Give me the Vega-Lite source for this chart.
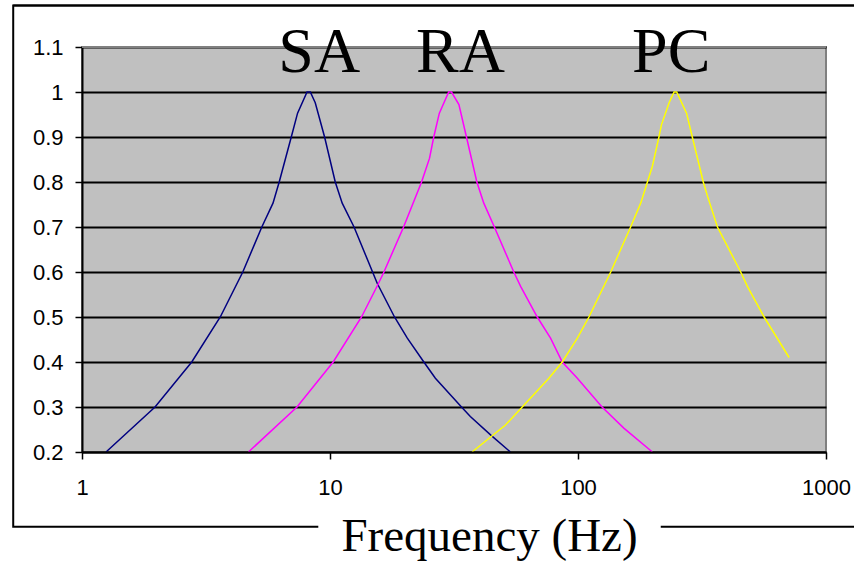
{
  "$schema": "https://vega.github.io/schema/vega-lite/v6.json",
  "width": 744,
  "height": 405,
  "autosize": {"type": "none"},
  "padding": {"left": 82, "top": 47, "right": 28, "bottom": 109},
  "background": "white",
  "config": {
    "view": {"fill": "#C0C0C0", "stroke": "#808080", "strokeWidth": 2}
  },
  "datasets": {
    "curves": [
      {"series": "SA", "f": 1.25, "v": 0.2},
      {"series": "SA", "f": 1.97, "v": 0.3},
      {"series": "SA", "f": 2.77, "v": 0.4},
      {"series": "SA", "f": 3.61, "v": 0.5},
      {"series": "SA", "f": 4.45, "v": 0.6},
      {"series": "SA", "f": 5.31, "v": 0.7},
      {"series": "SA", "f": 5.89, "v": 0.753},
      {"series": "SA", "f": 6.24, "v": 0.8},
      {"series": "SA", "f": 6.98, "v": 0.9},
      {"series": "SA", "f": 7.4, "v": 0.953},
      {"series": "SA", "f": 8.08, "v": 1.0},
      {"series": "SA", "f": 8.33, "v": 1.0},
      {"series": "SA", "f": 8.72, "v": 0.976},
      {"series": "SA", "f": 9.51, "v": 0.9},
      {"series": "SA", "f": 10.5, "v": 0.8},
      {"series": "SA", "f": 11.2, "v": 0.753},
      {"series": "SA", "f": 12.5, "v": 0.7},
      {"series": "SA", "f": 15.5, "v": 0.575},
      {"series": "SA", "f": 18.2, "v": 0.5},
      {"series": "SA", "f": 20.5, "v": 0.453},
      {"series": "SA", "f": 23.9, "v": 0.4},
      {"series": "SA", "f": 26.6, "v": 0.364},
      {"series": "SA", "f": 33.9, "v": 0.3},
      {"series": "SA", "f": 36.8, "v": 0.279},
      {"series": "SA", "f": 44.4, "v": 0.238},
      {"series": "SA", "f": 53.4, "v": 0.2},
      {"series": "RA", "f": 4.69, "v": 0.2},
      {"series": "RA", "f": 7.36, "v": 0.3},
      {"series": "RA", "f": 10.3, "v": 0.4},
      {"series": "RA", "f": 13.4, "v": 0.5},
      {"series": "RA", "f": 15.7, "v": 0.575},
      {"series": "RA", "f": 16.5, "v": 0.6},
      {"series": "RA", "f": 19.8, "v": 0.7},
      {"series": "RA", "f": 23.4, "v": 0.8},
      {"series": "RA", "f": 25.2, "v": 0.853},
      {"series": "RA", "f": 26.2, "v": 0.9},
      {"series": "RA", "f": 27.6, "v": 0.953},
      {"series": "RA", "f": 30.1, "v": 1.0},
      {"series": "RA", "f": 30.9, "v": 1.0},
      {"series": "RA", "f": 33.1, "v": 0.972},
      {"series": "RA", "f": 35.5, "v": 0.9},
      {"series": "RA", "f": 39.1, "v": 0.8},
      {"series": "RA", "f": 41.7, "v": 0.753},
      {"series": "RA", "f": 46.0, "v": 0.7},
      {"series": "RA", "f": 55.1, "v": 0.6},
      {"series": "RA", "f": 58.7, "v": 0.568},
      {"series": "RA", "f": 68.5, "v": 0.5},
      {"series": "RA", "f": 77.5, "v": 0.453},
      {"series": "RA", "f": 86.4, "v": 0.4},
      {"series": "RA", "f": 99.4, "v": 0.364},
      {"series": "RA", "f": 125, "v": 0.3},
      {"series": "RA", "f": 153, "v": 0.253},
      {"series": "RA", "f": 199.5, "v": 0.2},
      {"series": "PC", "f": 37.4, "v": 0.2},
      {"series": "PC", "f": 51.0, "v": 0.26},
      {"series": "PC", "f": 59.6, "v": 0.3},
      {"series": "PC", "f": 76.3, "v": 0.364},
      {"series": "PC", "f": 86.4, "v": 0.4},
      {"series": "PC", "f": 99.4, "v": 0.453},
      {"series": "PC", "f": 110.7, "v": 0.5},
      {"series": "PC", "f": 135.5, "v": 0.6},
      {"series": "PC", "f": 163, "v": 0.7},
      {"series": "PC", "f": 179, "v": 0.753},
      {"series": "PC", "f": 190.5, "v": 0.8},
      {"series": "PC", "f": 199.5, "v": 0.835},
      {"series": "PC", "f": 212, "v": 0.9},
      {"series": "PC", "f": 217, "v": 0.927},
      {"series": "PC", "f": 233, "v": 0.976},
      {"series": "PC", "f": 244, "v": 1.0},
      {"series": "PC", "f": 250, "v": 1.0},
      {"series": "PC", "f": 274, "v": 0.953},
      {"series": "PC", "f": 289, "v": 0.9},
      {"series": "PC", "f": 320, "v": 0.8},
      {"series": "PC", "f": 333, "v": 0.768},
      {"series": "PC", "f": 365, "v": 0.7},
      {"series": "PC", "f": 453, "v": 0.6},
      {"series": "PC", "f": 482, "v": 0.568},
      {"series": "PC", "f": 563, "v": 0.5},
      {"series": "PC", "f": 710, "v": 0.41}
    ],
    "labels": [
      {"label": "SA", "f": 9.05, "v": 1.044},
      {"label": "RA", "f": 33.6, "v": 1.044},
      {"label": "PC", "f": 237.6, "v": 1.044}
    ]
  },
  "layer": [
    {
      "data": {"values": [{}]},
      "mark": {"type": "rect", "fill": null, "fillOpacity": 0, "stroke": "black", "strokeWidth": 2},
      "encoding": {
        "x": {"datum": 0.528, "type": "quantitative"},
        "x2": {"datum": 1500},
        "y": {"datum": 0.0338, "type": "quantitative"},
        "y2": {"datum": 1.1922}
      }
    },
    {
      "data": {"values": [{}]},
      "mark": {"type": "rule", "color": "black", "strokeWidth": 2},
      "encoding": {
        "x": {"datum": 0.528, "type": "quantitative"},
        "x2": {"datum": 1500},
        "y": {"datum": 1.1922, "type": "quantitative"}
      }
    },
    {
      "data": {"values": [{}]},
      "mark": {"type": "rule", "color": "white", "strokeWidth": 5},
      "encoding": {
        "x": {"datum": 8.97, "type": "quantitative"},
        "x2": {"datum": 215.6},
        "y": {"datum": 0.0338, "type": "quantitative"}
      }
    },
    {
      "data": {"values": [{}]},
      "mark": {"type": "rule", "color": "#808080", "strokeWidth": 2},
      "encoding": {
        "x": {"datum": 1, "type": "quantitative"},
        "x2": {"datum": 1000},
        "y": {"datum": 1.1, "type": "quantitative"}
      }
    },
    {
      "data": {"name": "curves"},
      "mark": {"type": "line", "strokeWidth": 1.5},
      "encoding": {
        "x": {
          "field": "f",
          "type": "quantitative",
          "scale": {"type": "log", "domain": [1, 1000], "nice": false},
          "axis": {
            "title": "Frequency (Hz)",
            "zindex": 1,
            "values": [1, 10, 100, 1000],
            "format": "~g",
            "grid": false,
            "domainColor": "black",
            "domainWidth": 2,
            "tickColor": "black",
            "tickWidth": 1.5,
            "tickSize": 7,
            "labelFont": "Liberation Sans",
            "labelFontSize": 22,
            "labelColor": "black",
            "labelPadding": 18,
            "labelFlush": false,
            "labelOverlap": false,
            "titleFont": "Liberation Serif",
            "titleFontSize": 47,
            "titleFontWeight": "normal",
            "titleColor": "black",
            "titleAlign": "center",
            "titleBaseline": "alphabetic",
            "titleX": 407,
            "titleY": 98
          }
        },
        "y": {
          "field": "v",
          "type": "quantitative",
          "scale": {"domain": [0.2, 1.1], "nice": false, "zero": false},
          "axis": {
            "title": null,
            "values": [0.2, 0.3, 0.4, 0.5, 0.6, 0.7, 0.8, 0.9, 1.0, 1.1],
            "format": "~g",
            "grid": true,
            "gridColor": "black",
            "gridWidth": 1.8,
            "domainColor": "black",
            "domainWidth": 2,
            "tickColor": "black",
            "tickWidth": 1.5,
            "tickSize": 7,
            "labelFont": "Liberation Sans",
            "labelFontSize": 22,
            "labelColor": "black",
            "labelPadding": 12,
            "labelFlush": false,
            "labelOverlap": false
          }
        },
        "color": {
          "field": "series",
          "type": "nominal",
          "scale": {"domain": ["SA", "RA", "PC"], "range": ["#000080", "#FF00FF", "#FFFF00"]},
          "legend": null
        }
      }
    },
    {
      "data": {"name": "labels"},
      "mark": {"type": "text", "font": "Liberation Serif", "fontSize": 64, "color": "black", "align": "center", "baseline": "alphabetic"},
      "encoding": {
        "x": {"field": "f", "type": "quantitative"},
        "y": {"field": "v", "type": "quantitative"},
        "text": {"field": "label"}
      }
    }
  ]
}
